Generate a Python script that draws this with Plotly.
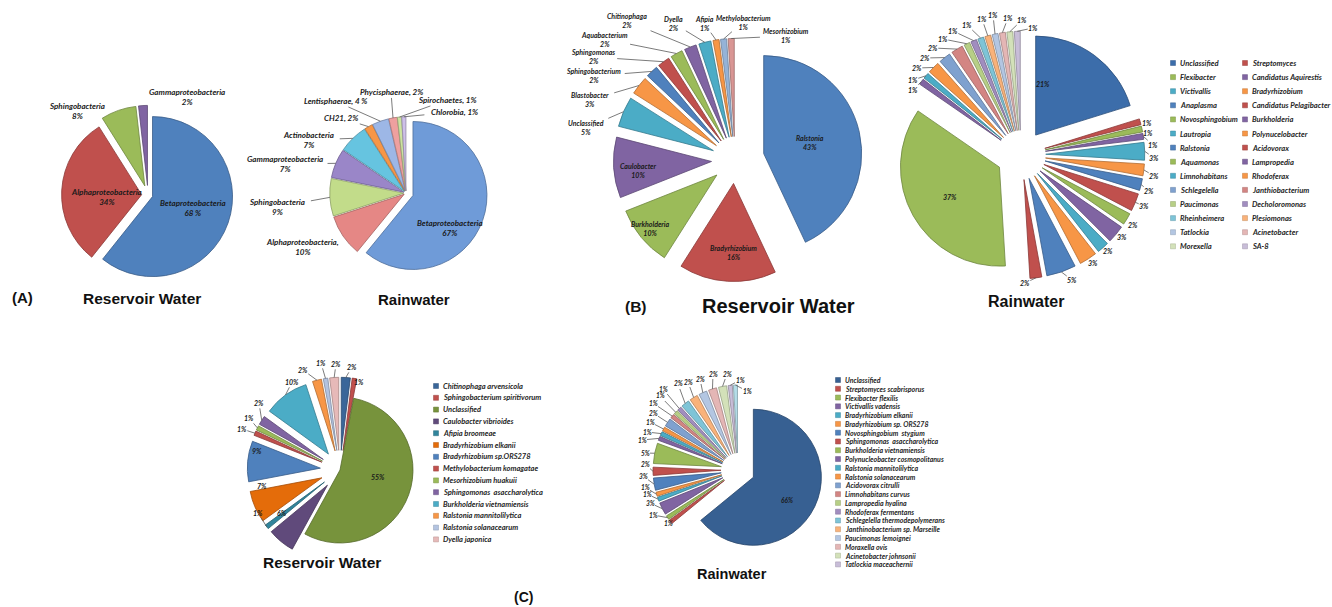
import math
import plotly.graph_objects as go

W, H = 1332, 607

# ---------------- data ----------------
# (A) class level composition (%)
a_res_classes = ["Betaproteobacteria", "Alphaproteobacteria", "Sphingobacteria", "Gammaproteobacteria"]
a_res_pct = [68, 34, 8, 2]

a_rain_classes = ["Betaproteobacteria", "Alphaproteobacteria", "Sphingobacteria", "Gammaproteobacteria",
                  "Actinobacteria", "CH21", "Lentisphaerae", "Phycisphaerae", "Spirochaetes", "Chlorobia"]
a_rain_pct = [67, 10, 9, 7, 7, 2, 4, 2, 1, 1]

# (B) genus level composition (%)
b_res_genera = ["Ralstonia", "Bradyrhizobium", "Burkholderia", "Caulobacter", "Unclassified", "Blastobacter",
                "Sphingobacterium", "Sphingomonas", "Aquabacterium", "Chitinophaga", "Dyella", "Afipia",
                "Methylobacterium", "Mesorhizobium"]
b_res_pct = [43, 16, 10, 10, 5, 3, 2, 2, 2, 2, 2, 1, 1, 1]

b_rain_genera = ["Unclassified", "Streptomyces", "Flexibacter", "Candidatus Aquirestis", "Victivallis",
                 "Bradyrhizobium", "Anaplasma", "Candidatus Pelagibacter", "Novosphingobium", "Burkholderia",
                 "Lautropia", "Polynucelobacter", "Ralstonia", "Acidovorax", "Aquamonas", "Lampropedia",
                 "Limnohabitans", "Rhodoferax", "Schlegelella", "Janthiobacterium", "Paucimonas",
                 "Decholoromonas", "Rheinheimera", "Plesiomonas", "Tatlockia", "Acinetobacter", "Morexella", "SA-8"]
b_rain_pct = [21, 1, 1, 1, 3, 2, 2, 3, 2, 3, 2, 3, 5, 2, 37, 1, 1, 2, 2, 2, 1, 1, 1, 1, 1, 1, 1, 1]

# (C) species level composition (%)
c_res_species = ["Chitinophaga arvensicola", "Sphingobacterium spiritivorum", "Unclassified",
                 "Caulobacter vibrioides", "Afipia broomeae", "Bradyrhizobium elkanii", "Bradyrhizobium sp.ORS278",
                 "Methylobacterium komagatae", "Mesorhizobium huakuii", "Sphingomonas  asaccharolytica",
                 "Burkholderia vietnamiensis", "Ralstonia mannitolilytica", "Ralstonia solanacearum",
                 "Dyella japonica"]
c_res_pct = [2, 1, 55, 6, 1, 7, 9, 1, 1, 2, 10, 2, 1, 2]

c_rain_species = ["Unclassified", "Streptomyces scabrisporus", "Flexibacter flexilis", "Victivallis vadensis",
                  "Bradyrhizobium elkanii", "Bradyrhizobium sp. ORS278", "Novosphingobium  stygium",
                  "Sphingomonas  asaccharolytica", "Burkholderia vietnamiensis", "Polynucleobacter cosmopolitanus",
                  "Ralstonia mannitolilytica", "Ralstonia solanacearum", "Acidovorax citrulli",
                  "Limnohabitans curvus", "Lampropedia hyalina", "Rhodoferax fermentans",
                  "Schlegelella thermodepolymerans", "Janthinobacterium sp. Marseille", "Paucimonas lemoignei",
                  "Moraxella ovis", "Acinetobacter johnsonii", "Tatlockia maceachernii", ""]
c_rain_pct = [66, 1, 1, 3, 1, 1, 3, 2, 5, 1, 1, 1, 2, 1, 1, 1, 2, 2, 2, 2, 2, 1, 1]

# ---------------- styling ----------------
LABEL_FONT = "Lato, 'Open Sans', 'DejaVu Sans', sans-serif"
TITLE_FONT = "'Liberation Sans', Arial, sans-serif"

BASE = ['#4F81BD', '#C0504D', '#9BBB59', '#8064A2', '#4BACC6', '#F79646']
TINT1 = ['#7FA1CF', '#D38583', '#B7CF86', '#A18DBF', '#7EC4D7', '#F9B27A']
TINT2 = ['#B3C6E2', '#E4B6B5', '#D3E1B9', '#C8BDD8', '#B4DDE8', '#FBD0AE']

col_a_res = BASE[:4]
col_a_rain = ['#6F9BD8', '#E58785', '#C2DC8A', '#9A86C8', '#66C4E0', '#F79646',
              '#9DB7E6', '#EEA09F', '#CDE3A0', '#CDBFE8']
col_b_res = BASE * 2 + ['#95B3D7', '#D99694']
col_b_rain = ['#3C6DAA'] + BASE[1:] + BASE * 2 + TINT1 + TINT2[:4]
col_c_res = ['#3A6699', '#C0504D', '#77933C', '#604A7B', '#31859C', '#E46C0A'] + BASE + ['#B3C3E0', '#E6B9B8']
col_c_rain = ['#376092'] + BASE[1:] + BASE + TINT1 + TINT2[:5]


def darken(hexc, f=0.72):
    h = hexc.lstrip('#')
    r, g, b = (int(h[i:i + 2], 16) for i in (0, 2, 4))
    return '#%02x%02x%02x' % (int(r * f), int(g * f), int(b * f))


def px(x):
    return x / W


def py(y):
    return 1 - y / H


fig = go.Figure()
shapes, annos = [], []


def add_pie(values, labels, colors, pulls, cx, cy, r):
    """Place a clockwise pie centred at pixel (cx, cy) with radius r; return outer mid-arc points."""
    half = r * (1 + max(pulls))
    fig.add_trace(go.Pie(
        values=values, labels=labels, sort=False, direction='clockwise', rotation=0,
        pull=pulls, textinfo='none', hoverinfo='label+value', showlegend=False,
        marker=dict(colors=colors, line=dict(color=[darken(c) for c in colors], width=0.8)),
        domain=dict(x=[px(cx - half), px(cx + half)], y=[py(cy + half), py(cy - half)]),
    ))
    total = float(sum(values))
    pts, a = [], 0.0
    for v, p in zip(values, pulls):
        span = v / total * 2 * math.pi
        mid = a + span / 2
        ux, uy = math.sin(mid), -math.cos(mid)
        pts.append((cx + (1 + p) * r * ux, cy + (1 + p) * r * uy))
        a += span
    return pts


def text(x, y, t, size, family=LABEL_FONT, bold=True, italic=True, xanchor='center', color='#1a1a1a'):
    annos.append(dict(x=px(x), y=py(y), xref='paper', yref='paper', text=t, showarrow=False,
                      xanchor=xanchor, yanchor='middle', align='center',
                      font=dict(family=family, size=size, color=color,
                                weight='bold' if bold else 'normal',
                                style='italic' if italic else 'normal')))


def add_labels(pts, texts, positions, inside, size, leaders=True):
    for i, (t, pos) in enumerate(zip(texts, positions)):
        lx, ly = pos
        text(lx, ly, t, size)
        if not leaders or i in inside:
            continue
        lines = t.split('<br>')
        hw = 0.27 * size * max(len(s) for s in lines) + 1.5
        hh = 0.62 * size * len(lines) + 1
        sx, sy = pts[i]
        dx, dy = sx - lx, sy - ly
        if abs(dx) <= hw and abs(dy) <= hh:
            continue
        k = min(hw / abs(dx) if dx else 1e9, hh / abs(dy) if dy else 1e9)
        ex, ey = lx + dx * k, ly + dy * k
        if math.hypot(sx - ex, sy - ey) < 3:
            continue
        shapes.append(dict(type='line', xref='paper', yref='paper', x0=px(ex), y0=py(ey),
                           x1=px(sx), y1=py(sy), line=dict(color='#595959', width=0.8)))


def add_legend(names, colors, x0, y0, dy, size, sq=5, ncols=1, col_dx=0):
    for i, (nm, c) in enumerate(zip(names, colors)):
        if not nm:
            continue
        row, col = divmod(i, ncols)
        x, y = x0 + col * col_dx, y0 + row * dy
        shapes.append(dict(type='rect', xref='paper', yref='paper',
                           x0=px(x - sq / 2), x1=px(x + sq / 2), y0=py(y + sq / 2), y1=py(y - sq / 2),
                           fillcolor=c, line=dict(color=darken(c, 0.8), width=0.5)))
        text(x + sq / 2 + 2.5, y, nm, size, xanchor='left', color='#262626')


# ---------------- (A) ----------------
p = add_pie(a_res_pct, a_res_classes, col_a_res, [0.06, 0.08, 0.12, 0.12], 148, 195, 80)
fmt = ["{n}<br>{v} %", "{n}<br>{v}%", "{n}<br>{v}%", "{n}<br>{v}%"]
add_labels(p, [f.format(n=n, v=v) for f, n, v in zip(fmt, a_res_classes, a_res_pct)],
           [(193, 208), (107, 197), (77, 111), (187, 97)], {0, 1}, 8, leaders=False)

p = add_pie(a_rain_pct, a_rain_classes, col_a_rain, [0.1] + [0.03] * 9, 406, 193, 74)
fmt = ["{n}<br>{v}%", "{n},<br>{v}%", "{n}<br>{v}%", "{n}<br>{v}%", "{n}<br>{v}%",
       "{n}, {v}%", "{n}, {v} %", "{n}, {v}%", "{n}, {v}%", "{n}, {v}%"]
add_labels(p, [f.format(n=n, v=v) for f, n, v in zip(fmt, a_rain_classes, a_rain_pct)],
           [(450, 228), (302, 247), (277, 207), (285, 164), (308, 140), (341, 118), (335, 101),
            (391, 92), (447, 100), (454, 112)], {0}, 8)

text(22, 297, "(A)", 15, TITLE_FONT, italic=False, color='#111111')
text(142, 298, "Reservoir Water", 15.5, TITLE_FONT, italic=False, color='#111111')
text(414, 299, "Rainwater", 15, TITLE_FONT, italic=False, color='#111111')

# ---------------- (B) ----------------
p = add_pie(b_res_pct, b_res_genera, col_b_res, [0.3] + [0.24] * 13, 735, 160, 98)
add_labels(p, [f"{n}<br>{v}%" for n, v in zip(b_res_genera, b_res_pct)],
           [(810, 143), (733, 252), (650, 228), (638, 170), (586, 128), (590, 100), (593, 76),
            (593, 57), (604, 39), (627, 21), (673, 23), (704, 23), (743, 22), (786, 36)],
           {0, 1, 2, 3}, 7)

p = add_pie(b_rain_pct, b_rain_genera, col_b_rain, [0.25] * len(b_rain_pct), 1021, 155, 99)
add_labels(p, [f"{v}%" for v in b_rain_pct],
           [(1043, 84), (1147, 123), (1148, 133), (1153, 145), (1154, 158), (1154, 176), (1149, 191),
            (1144, 206), (1133, 225), (1122, 237), (1108, 251), (1093, 263), (1072, 280), (1025, 283),
            (950, 197), (913, 90), (913, 80), (917, 68), (925, 58), (933, 48), (943, 39), (953, 31),
            (967, 25), (982, 19), (993, 15), (1008, 18), (1022, 20), (1033, 28)],
           {0, 14}, 7)
add_legend(b_rain_genera, col_b_rain, 1173, 63, 14.1, 7.6, ncols=2, col_dx=72)

text(636, 306, "(B)", 15.5, TITLE_FONT, italic=False, color='#111111')
text(778, 306, "Reservoir Water", 20, TITLE_FONT, italic=False, color='#111111')
text(1026, 301, "Rainwater", 16, TITLE_FONT, italic=False, color='#111111')

# ---------------- (C) ----------------
pulls = [0.0 if i == 2 else 0.27 for i in range(len(c_res_pct))]
p = add_pie(c_res_pct, c_res_species, col_c_res, pulls, 340, 470, 73)
add_labels(p, [f"{v}%" for v in c_res_pct],
           [(352, 367), (359, 382), (378, 477), (282, 513), (258, 513), (262, 486), (257, 451),
            (242, 429), (249, 418), (259, 403), (292, 382), (303, 370), (321, 363), (336, 364)],
           {2, 3, 5, 6}, 7)
add_legend(c_res_species, col_c_res, 436, 386, 11.8, 7.5)

p = add_pie(c_rain_pct, c_rain_species, col_c_rain, [0.25] * len(c_rain_pct), 738, 470, 68)
add_labels(p, [f"{v}%" for v in c_rain_pct],
           [(787, 500), (668, 523), (653, 515), (650, 503), (647, 494), (645, 487), (643, 476),
            (645, 464), (645, 453), (642, 440), (647, 432), (650, 422), (653, 413), (653, 403),
            (660, 396), (663, 389), (678, 384), (688, 382), (700, 379), (713, 374), (727, 374),
            (740, 380), (747, 391)],
           {0}, 6.5)
add_legend(c_rain_species, col_c_rain, 838, 380, 8.78, 7)

text(523, 597, "(C)", 14, TITLE_FONT, italic=False, color='#111111')
text(322, 562, "Reservoir Water", 15.5, TITLE_FONT, italic=False, color='#111111')
text(732, 574, "Rainwater", 14.5, TITLE_FONT, italic=False, color='#111111')

fig.update_layout(
    width=W, height=H, margin=dict(l=0, r=0, t=0, b=0),
    paper_bgcolor='white', plot_bgcolor='white',
    shapes=shapes, annotations=annos, showlegend=False,
)

fig.write_html("out.html")
